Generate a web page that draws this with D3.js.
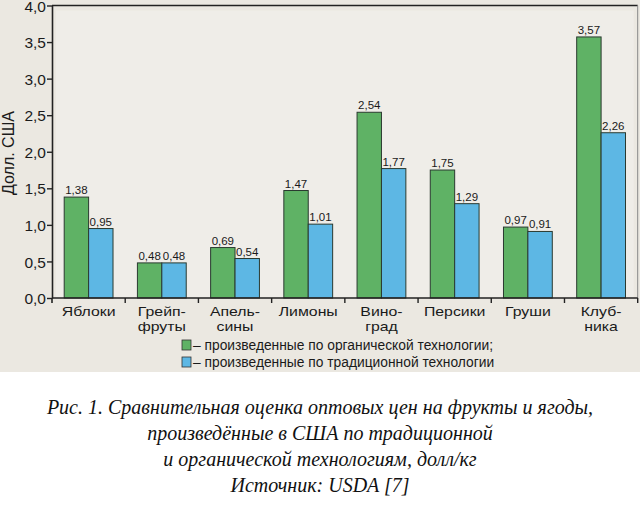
<!DOCTYPE html>
<html>
<head>
<meta charset="utf-8">
<script src="https://cdn.jsdelivr.net/npm/d3@7"></script>
<style>
  body { margin: 0; background: #fff; }
  .tick-label { font-family: "Liberation Sans", Arial, sans-serif; font-size: 15.5px; fill: #1a1a1a; }
  .value { font-family: "Liberation Sans", Arial, sans-serif; font-size: 11.5px; fill: #1a1a1a; }
  .cat { font-family: "Liberation Sans", Arial, sans-serif; font-size: 13.2px; fill: #1a1a1a; }
  .legend { font-family: "Liberation Sans", Arial, sans-serif; font-size: 13.8px; fill: #1a1a1a; }
  .caption { font-family: "Liberation Serif", "Times New Roman", serif; font-style: italic; font-size: 20px; fill: #111; }
</style>
</head>
<body>
<svg id="chart"></svg>
<script>
const width = 640, height = 509;
const plotLeft = 52, plotRight = 637.7, plotTop = 5.5, plotBottom = 298;

// data
const categories = [["Яблоки"], ["Грейп-", "фруты"], ["Апель-", "сины"], ["Лимоны"],
    ["Вино-", "град"], ["Персики"], ["Груши"], ["Клуб-", "ника"]];
const organic = [1.38, 0.48, 0.69, 1.47, 2.54, 1.75, 0.97, 3.57];
const traditional = [0.95, 0.48, 0.54, 1.01, 1.77, 1.29, 0.91, 2.26];
const yTicks = [0, 0.5, 1, 1.5, 2, 2.5, 3, 3.5, 4];
const seriesNames = ["– произведенные по органической технологии;", "– произведенные по традиционной технологии"];
const seriesColors = ["#5fb265", "#5db7e4"];
const captionLines = ["Рис. 1. Сравнительная оценка оптовых цен на фрукты и ягоды,",
    "произведённые в США по традиционной",
    "и органической технологиям, долл/кг",
    "Источник: USDA [7]"];

const fmt = v => d3.format(".2f")(v).replace(".", ",");
const fmtTick = v => d3.format(".1f")(v).replace(".", ",");

const svg = d3.select('#chart').attr('width', width).attr('height', height);

// beige scanned background
svg.append('rect').attr('x', 0).attr('y', 0).attr('width', width).attr('height', 372).attr('fill', '#ebe8e1');
svg.append('rect').attr('x', plotLeft + 4).attr('y', plotTop + 5).attr('width', plotRight - plotLeft - 8).attr('height', plotBottom - plotTop - 5)
    .attr('fill', '#efede8');

const x = d3.scaleBand().domain(d3.range(categories.length)).range([plotLeft, plotRight]).paddingInner(0).paddingOuter(0);
const x1 = d3.scaleBand().domain([0, 1]).range([0, x.bandwidth()]).paddingOuter(0.5).paddingInner(0);
const y = d3.scaleLinear().domain([0, 4]).range([plotBottom, plotTop]);

// frame: top + right
svg.append('line').attr('x1', plotLeft).attr('x2', plotRight).attr('y1', plotTop).attr('y2', plotTop)
    .attr('stroke', '#222').attr('stroke-width', 1.6);
svg.append('line').attr('x1', plotRight).attr('x2', plotRight).attr('y1', plotTop).attr('y2', plotBottom)
    .attr('stroke', '#888').attr('stroke-width', 1);

// bars
const series = [organic, traditional];
series.forEach((vals, s) => {
    svg.append('g').selectAll('rect').data(vals).join('rect')
        .attr('x', (d, i) => x(i) + x1(s))
        .attr('y', d => y(d))
        .attr('width', x1.bandwidth())
        .attr('height', d => y(0) - y(d))
        .attr('fill', seriesColors[s])
        .attr('stroke', '#2a3a30')
        .attr('stroke-width', 1);
    svg.append('g').selectAll('text').data(vals).join('text')
        .attr('class', 'value')
        .attr('x', (d, i) => x(i) + x1(s) + x1.bandwidth() / 2)
        .attr('y', d => y(d) - 3)
        .attr('text-anchor', 'middle')
        .text(fmt);
});

// y axis
const yAxis = svg.append('g').attr('transform', `translate(${plotLeft},0)`)
    .call(d3.axisLeft(y).tickValues(yTicks).tickFormat(fmtTick).tickSize(5).tickSizeOuter(0));
yAxis.attr('font-size', null).attr('font-family', null);
yAxis.select('.domain').attr('stroke', '#222').attr('stroke-width', 1.6);
yAxis.selectAll('.tick line').attr('stroke', '#222').attr('stroke-width', 1.4);
yAxis.selectAll('.tick text').attr('class', 'tick-label').attr('x', -6).attr('dy', '0.36em');
svg.append('line').attr('x1', plotLeft).attr('x2', plotLeft).attr('y1', plotBottom).attr('y2', plotBottom + 5)
    .attr('stroke', '#222').attr('stroke-width', 1.6);

// x axis
svg.append('line').attr('x1', plotLeft).attr('x2', plotRight).attr('y1', plotBottom).attr('y2', plotBottom)
    .attr('stroke', '#222').attr('stroke-width', 1.6);
svg.append('g').selectAll('line').data(d3.range(1, categories.length + 1)).join('line')
    .attr('x1', i => x(i - 1) + x.bandwidth()).attr('x2', i => x(i - 1) + x.bandwidth())
    .attr('y1', plotBottom).attr('y2', plotBottom + 5)
    .attr('stroke', '#222').attr('stroke-width', 1.4);

// category labels: the scanned lettering is wide, so stretch horizontally
const cats = svg.append('g').selectAll('text').data(categories).join('text')
    .attr('class', 'cat')
    .attr('text-anchor', 'middle')
    .attr('transform', (d, i) => `translate(${x(i) + x.bandwidth() / 2},${plotBottom + 18}) scale(1.2,1)`);
cats.selectAll('tspan').data(d => d).join('tspan')
    .attr('x', 0)
    .attr('dy', (d, j) => j === 0 ? 0 : 15)
    .text(d => d);

// y title
svg.append('text').attr('class', 'tick-label')
    .attr('transform', 'translate(14,153) rotate(-90)')
    .attr('text-anchor', 'middle')
    .style('font-size', '16px')
    .text('Долл. США');

// legend
const lg = svg.append('g').selectAll('g').data(seriesNames).join('g')
    .attr('transform', (d, i) => `translate(182,${345 + i * 17})`);
lg.append('rect').attr('x', 0).attr('y', -5).attr('width', 9).attr('height', 10)
    .attr('fill', (d, i) => seriesColors[i]).attr('stroke', '#333').attr('stroke-width', 0.8);
lg.append('text').attr('class', 'legend').attr('x', 11).attr('y', 5).text(d => d);

// caption
svg.append('g').selectAll('text').data(captionLines).join('text')
    .attr('class', 'caption')
    .attr('x', width / 2)
    .attr('y', (d, i) => 414 + i * 26)
    .attr('text-anchor', 'middle')
    .text(d => d);
</script>
</body>
</html>
